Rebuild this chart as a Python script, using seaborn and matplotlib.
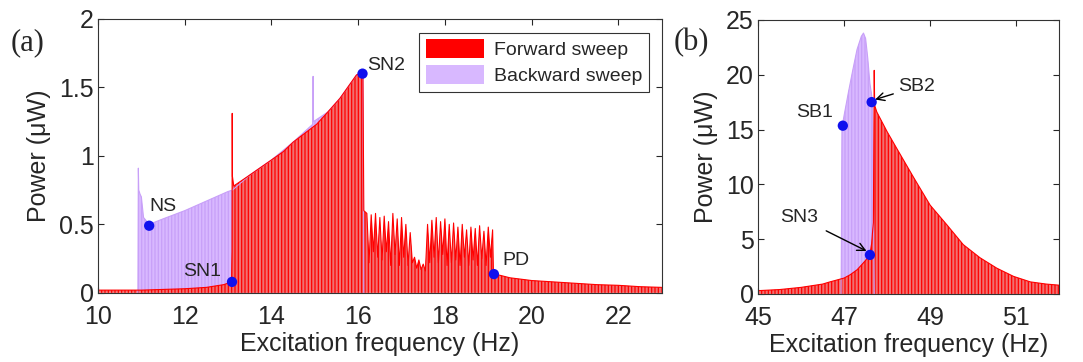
import numpy as np
import pandas as pd
import matplotlib
matplotlib.use("Agg")
import matplotlib.pyplot as plt
from matplotlib.patches import Patch
import seaborn as sns

# ========== DATA ==========
# (a) forward sweep envelope, 10-23 Hz
FWD_A_FREQ = [10.0, 10.5, 11.0, 11.5, 12.0, 12.5, 12.9, 13.08, 13.09, 13.095, 13.10, 13.13,
              13.5, 14.0, 14.27, 14.5, 15.04, 15.3, 15.58, 15.96, 16.08, 16.11, 16.13,
              16.20, 16.25, 16.30, 16.35, 16.40, 16.45, 16.50, 16.55, 16.60, 16.65, 16.70,
              16.75, 16.80, 16.85, 16.90, 16.95, 17.00, 17.05, 17.10, 17.15, 17.20, 17.25,
              17.30, 17.35, 17.40, 17.45, 17.50, 17.55, 17.60, 17.65, 17.70, 17.75, 17.80,
              17.85, 17.90, 17.95, 18.00, 18.05, 18.10, 18.15, 18.20, 18.25, 18.30, 18.35,
              18.40, 18.45, 18.50, 18.55, 18.60, 18.65, 18.70, 18.75, 18.80, 18.85, 18.90,
              18.95, 19.00, 19.05, 19.10, 19.12, 19.5, 20.0, 20.5, 21.0, 21.5, 22.0, 22.5, 23.0]
FWD_A_POWER = [0.02, 0.02, 0.02, 0.025, 0.03, 0.04, 0.06, 0.08, 0.30, 1.31, 0.85, 0.78,
               0.86, 0.97, 1.03, 1.10, 1.23, 1.32, 1.42, 1.59, 1.61, 1.58, 0.60,
               0.58, 0.22, 0.57, 0.30, 0.58, 0.26, 0.55, 0.24, 0.56, 0.30, 0.52,
               0.20, 0.58, 0.28, 0.54, 0.20, 0.55, 0.26, 0.50, 0.20, 0.44, 0.22,
               0.26, 0.18, 0.24, 0.17, 0.21, 0.16, 0.50, 0.22, 0.53, 0.26, 0.55,
               0.22, 0.52, 0.28, 0.54, 0.20, 0.50, 0.22, 0.51, 0.24, 0.48, 0.20,
               0.50, 0.26, 0.46, 0.20, 0.48, 0.24, 0.47, 0.20, 0.49, 0.25, 0.45,
               0.20, 0.48, 0.26, 0.46, 0.14, 0.11, 0.09, 0.08, 0.07, 0.06, 0.055, 0.045, 0.04]

# (a) backward sweep envelope (only the part not hidden by the forward sweep)
BWD_A_FREQ = [10.92, 10.93, 10.94, 10.97, 11.0, 11.05, 11.18, 11.5, 12.0, 12.5, 13.0, 13.1,
              13.5, 14.0, 14.5, 14.95, 14.96, 14.97, 15.3, 15.58, 15.96, 16.08, 16.11, 16.13]
BWD_A_POWER = [0.0, 0.91, 0.75, 0.72, 0.70, 0.55, 0.50, 0.54, 0.60, 0.67, 0.74, 0.75,
               0.86, 0.97, 1.10, 1.23, 1.58, 1.25, 1.32, 1.42, 1.59, 1.61, 1.58, 0.0]

# (b) forward sweep envelope, 45-52 Hz
FWD_B_FREQ = [45.0, 45.5, 46.0, 46.5, 46.67, 47.0, 47.14, 47.3, 47.44, 47.55, 47.6, 47.64,
              47.66, 47.68, 47.70, 47.71, 47.76, 48.0, 48.22, 48.62, 49.0, 49.39, 49.77,
              50.16, 50.55, 50.94, 51.33, 51.7, 52.0]
FWD_B_POWER = [0.3, 0.4, 0.6, 0.9, 1.1, 1.45, 1.75, 2.2, 2.8, 3.3, 3.6, 4.6,
               5.6, 6.5, 20.4, 17.2, 16.6, 14.8, 13.3, 10.6, 8.1, 6.3, 4.5,
               3.3, 2.35, 1.6, 1.1, 0.9, 0.8]

# (b) backward sweep envelope (visible part)
BWD_B_FREQ = [46.93, 46.95, 47.0, 47.1, 47.2, 47.3, 47.4, 47.45, 47.5, 47.55, 47.6, 47.66, 47.7]
BWD_B_POWER = [0.0, 15.2, 16.3, 18.4, 20.4, 22.3, 23.5, 23.8, 23.3, 21.5, 19.2, 17.6, 0.0]

# marked points
PTS_A_LABEL = ["NS", "SN1", "SN2", "PD"]
PTS_A_FREQ = [11.18, 13.09, 16.1, 19.13]
PTS_A_POWER = [0.49, 0.08, 1.60, 0.137]
PTS_B_LABEL = ["SB1", "SB2", "SN3"]
PTS_B_FREQ = [46.97, 47.64, 47.6]
PTS_B_POWER = [15.35, 17.5, 3.56]

RED = "#ff0000"
RED_FILL = "#f07070"
LAV = "#d8b8ff"
LAV_EDGE = "#c8a0f8"
DOT = "#1010ee"

sns.set_style("ticks")
plt.rcParams["font.family"] = ["Liberation Sans", "DejaVu Sans"]
plt.rcParams["hatch.linewidth"] = 0.9
plt.rcParams["axes.linewidth"] = 0.8


def draw_sweep(ax, freq, power, face, edge):
    df = pd.DataFrame({"f": freq, "p": power})
    ax.fill_between(df["f"], 0, df["p"], facecolor=face, edgecolor=edge,
                    hatch="|||||", linewidth=0)
    sns.lineplot(data=df, x="f", y="p", ax=ax, color=edge, linewidth=0.8,
                 estimator=None, sort=False)


def style_axes(ax):
    ax.tick_params(direction="in", top=True, right=True, length=4,
                   labelsize=18, width=0.8)
    ax.tick_params(axis="x", pad=9)
    ax.tick_params(axis="y", pad=3)
    for s in ax.spines.values():
        s.set_color("#333333")
    ax.set_xlabel("Excitation frequency (Hz)", fontsize=18, labelpad=2)
    ax.set_ylabel("Power (\u03bcW)", fontsize=18, labelpad=6)


fig = plt.figure(figsize=(10.83, 3.62), dpi=100)
ax_a = fig.add_axes([0.0905, 0.191, 0.5205, 0.757])
ax_b = fig.add_axes([0.700, 0.188, 0.278, 0.757])

# ----- panel (a) -----
draw_sweep(ax_a, BWD_A_FREQ, BWD_A_POWER, LAV, LAV_EDGE)
draw_sweep(ax_a, FWD_A_FREQ, FWD_A_POWER, RED_FILL, RED)
sns.scatterplot(x=PTS_A_FREQ, y=PTS_A_POWER, ax=ax_a, color=DOT, s=55,
                edgecolor="none", zorder=5)
offsets_a = {"NS": (0.0, 0.08), "SN1": (-1.13, 0.015), "SN2": (0.1, 0.0), "PD": (0.2, 0.04)}
for lab, f, p in zip(PTS_A_LABEL, PTS_A_FREQ, PTS_A_POWER):
    dx, dy = offsets_a[lab]
    ax_a.text(f + dx, p + dy, lab, fontsize=14, va="bottom", ha="left")
ax_a.set_xlim(10, 23)
ax_a.set_ylim(0, 2)
ax_a.set_xticks([10, 12, 14, 16, 18, 20, 22])
ax_a.set_yticks([0, 0.5, 1, 1.5, 2])
ax_a.set_yticklabels(["0", "0.5", "1", "1.5", "2"])
style_axes(ax_a)
handles = [Patch(facecolor=RED, edgecolor="none"), Patch(facecolor=LAV, edgecolor="none")]
leg = ax_a.legend(handles, ["Forward sweep", "Backward sweep"], loc="upper right",
                  bbox_to_anchor=(0.995, 0.985), fontsize=14, frameon=True, fancybox=False,
                  handlelength=3.0, handleheight=1.1, borderpad=0.35, labelspacing=0.3,
                  handletextpad=0.5)
leg.get_frame().set_edgecolor("black")
leg.get_frame().set_linewidth(0.8)
fig.text(0.01, 0.86, "(a)", fontsize=22, family="Liberation Serif")

# ----- panel (b) -----
draw_sweep(ax_b, BWD_B_FREQ, BWD_B_POWER, LAV, LAV_EDGE)
draw_sweep(ax_b, FWD_B_FREQ, FWD_B_POWER, RED_FILL, RED)
sns.scatterplot(x=PTS_B_FREQ, y=PTS_B_POWER, ax=ax_b, color=DOT, s=55,
                edgecolor="none", zorder=5)
ax_b.text(46.75, 15.8, "SB1", fontsize=14, ha="right", va="bottom")
ax_b.annotate("SB2", xy=(PTS_B_FREQ[1] + 0.05, PTS_B_POWER[1] + 0.2), xytext=(48.25, 18.9),
              fontsize=14, ha="left", va="center",
              arrowprops=dict(arrowstyle="->", color="black", lw=1.0, shrinkA=1, shrinkB=1))
ax_b.annotate("SN3", xy=(PTS_B_FREQ[2] - 0.05, PTS_B_POWER[2] + 0.3), xytext=(45.95, 7.0),
              fontsize=14, ha="center", va="center",
              arrowprops=dict(arrowstyle="->", color="black", lw=1.0, shrinkA=4, shrinkB=1))
ax_b.set_xlim(45, 52)
ax_b.set_ylim(0, 25)
ax_b.set_xticks([45, 47, 49, 51])
ax_b.set_yticks([0, 5, 10, 15, 20, 25])
style_axes(ax_b)
fig.text(0.622, 0.86, "(b)", fontsize=22, family="Liberation Serif")

fig.savefig("out.png", dpi=100)
